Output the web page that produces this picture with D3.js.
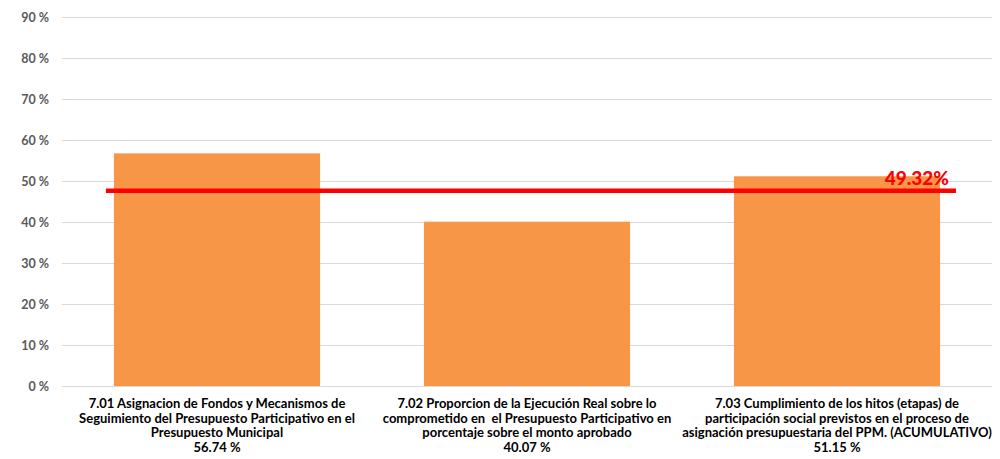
<!DOCTYPE html>
<html><head><meta charset="utf-8">
<script src="https://cdn.jsdelivr.net/npm/d3@7"></script>
<style>body{margin:0;background:#fff;}svg{display:block;font-family:Lato,"Open Sans",sans-serif;}</style>
</head><body>
<svg id="c" width="1000" height="459"></svg>
<script>
const categories = [
  ["7.01 Asignacion de Fondos y Mecanismos de","Seguimiento del Presupuesto Participativo en el","Presupuesto Municipal"],
  ["7.02 Proporcion de la Ejecución Real sobre lo","comprometido en  el Presupuesto Participativo en","porcentaje sobre el monto aprobado"],
  ["7.03 Cumplimiento de los hitos (etapas) de","participación social previstos en el proceso de","asignación presupuestaria del PPM. (ACUMULATIVO)"]
];
const values = [56.74, 40.07, 51.15];
const valueLabels = ["56.74 %","40.07 %","51.15 %"];
const yTicks = [0,10,20,30,40,50,60,70,80,90];
const refLineValue = [47.6];
const refLineLabel = ["49.32%"];

(function(){
const svg = d3.select("#c");
const mLeft = 62, mRight = 992, mTop = 17, mBottom = 386;
const x = d3.scaleBand().domain(d3.range(values.length)).range([mLeft, mRight]).paddingInner(0.335).paddingOuter(0.1675);
const y = d3.scaleLinear().domain([0, 90]).range([mBottom, mTop]);

svg.append("g").selectAll("line").data(yTicks).join("line")
  .attr("x1", mLeft).attr("x2", mRight)
  .attr("y1", d => y(d)+0.5).attr("y2", d => y(d)+0.5)
  .attr("stroke", "#d9d9d9").attr("stroke-width", 1);

const yAxis = d3.axisLeft(y).tickValues(yTicks).tickFormat(d => d + " %").tickSize(0).tickPadding(13);
const ga = svg.append("g").attr("transform", `translate(${mLeft},0)`).call(yAxis);
ga.select(".domain").remove();
ga.selectAll("text").attr("font-size", 12.5).attr("font-weight", "bold").attr("fill", "#595959").attr("font-family", "Lato");

svg.append("g").selectAll("rect").data(values).join("rect")
  .attr("x", (d,i) => x(i)).attr("width", x.bandwidth())
  .attr("y", d => y(d)).attr("height", d => y(0) - y(d))
  .attr("fill", "#f79646");

const lab = svg.append("g").selectAll("text").data(categories).join("text")
  .attr("text-anchor", "middle").attr("font-size", 13).attr("font-weight", "bold").attr("fill", "#000")
  .attr("xml:space", "preserve").style("white-space", "pre");
lab.each(function(d, i) {
  const t = d3.select(this);
  const lines = d.concat([valueLabels[i]]);
  lines.forEach((l, j) => {
    t.append("tspan").attr("x", x(i) + x.bandwidth()/2).attr("y", 408 + j*14.7).text(l);
  });
});

svg.append("g").selectAll("line").data(refLineValue).join("line")
  .attr("x1", x(0) - 8).attr("x2", x(2) + x.bandwidth() + 16)
  .attr("y1", d => y(d)).attr("y2", d => y(d))
  .attr("stroke", "#ff0000").attr("stroke-width", 4.5);

svg.append("g").selectAll("text").data(refLineLabel).join("text")
  .attr("x", x(2) + x.bandwidth() + 9).attr("y", y(refLineValue[0]) - 6)
  .attr("text-anchor", "end").attr("font-size", 19).attr("font-weight", "900").attr("fill", "#ff0000")
  .text(d => d);
})();
</script>
</body></html>
